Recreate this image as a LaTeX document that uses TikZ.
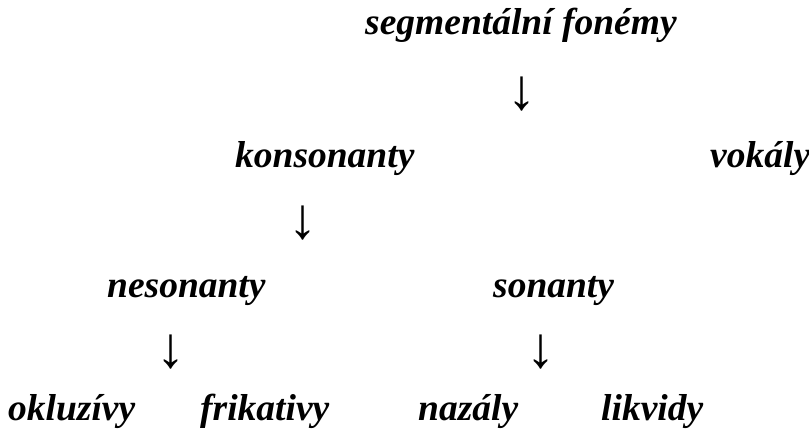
\documentclass[tikz,border=0pt]{standalone}
\usepackage{fontspec}
\setmainfont{Liberation Serif}
\tikzset{
  lbl/.style={inner sep=0pt, anchor=base west, font=\fontsize{37.5}{40}\selectfont\bfseries\itshape},
  arr/.style={inner sep=0pt, anchor=center, font=\fontsize{58}{60}\selectfont}
}
\begin{document}
\begin{tikzpicture}[x=1pt,y=-1pt]
\useasboundingbox (0,0) rectangle (809,432);
\node[lbl] (seg) at (365,34) {segmentální fonémy};
\node[arr] (a1) at (522,94) {↓};
\node[lbl] (kon) at (235,167) {konsonanty};
\node[lbl] (vok) at (710,167) {vokály};
\node[arr] (a2) at (303,223) {↓};
\node[lbl] (nes) at (107,297) {nesonanty};
\node[lbl] (son) at (493,297) {sonanty};
\node[arr] (a3) at (171,352) {↓};
\node[arr] (a4) at (541,352) {↓};
\node[lbl] (okl) at (8,420) {okluzívy};
\node[lbl] (fri) at (200,420) {frikativy};
\node[lbl] (naz) at (418,420) {nazály};
\node[lbl] (lik) at (601,420) {likvidy};
\end{tikzpicture}
\end{document}
